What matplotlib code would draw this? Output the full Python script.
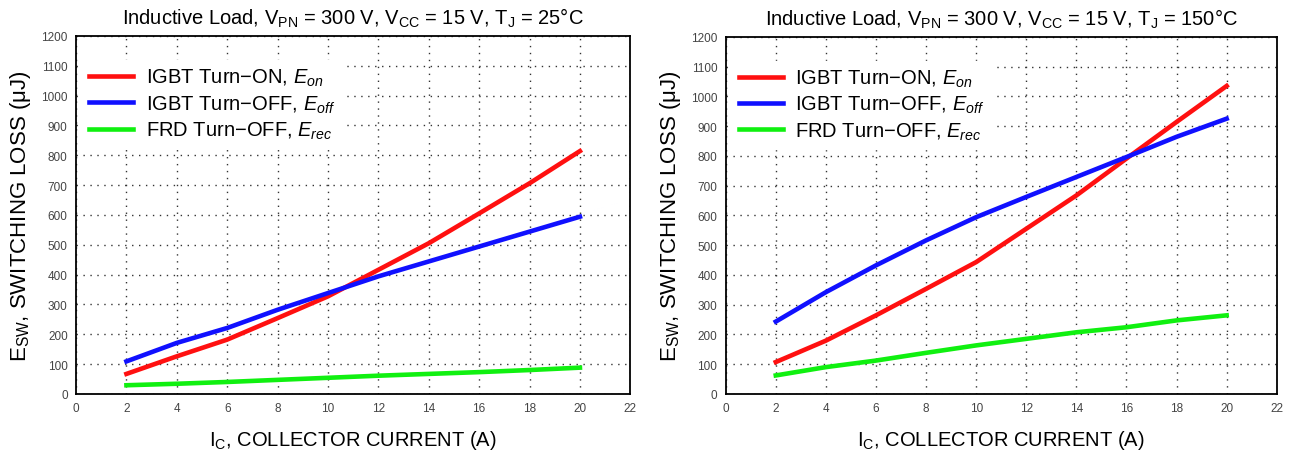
import numpy as np
import matplotlib
matplotlib.use('Agg')
import matplotlib.pyplot as plt

plt.rcParams['font.family'] = ['Liberation Sans', 'DejaVu Sans']
plt.rcParams['mathtext.fontset'] = 'custom'
plt.rcParams['mathtext.rm'] = 'Liberation Sans'
plt.rcParams['mathtext.it'] = 'Liberation Sans:italic'

# collector current (A)
ic = [2, 4, 6, 8, 10, 12, 14, 16, 18, 20]

# Tj = 25 C
eon_25 = [67, 126, 182, 254, 327, 416, 505, 605, 706, 814]
eoff_25 = [109, 171, 221, 282, 338, 394, 444, 494, 544, 594]
erec_25 = [29, 34, 40, 47, 54, 61, 67, 73, 80, 88]

# Tj = 150 C
eon_150 = [107, 179, 264, 353, 443, 555, 667, 791, 914, 1035]
eoff_150 = [243, 342, 432, 516, 594, 662, 729, 796, 864, 925]
erec_150 = [62, 90, 112, 138, 163, 185, 207, 224, 247, 264]

titles = [r'Inductive Load, V$_{\mathrm{PN}}$ = 300 V, V$_{\mathrm{CC}}$ = 15 V, T$_{\mathrm{J}}$ = 25°C',
          r'Inductive Load, V$_{\mathrm{PN}}$ = 300 V, V$_{\mathrm{CC}}$ = 15 V, T$_{\mathrm{J}}$ = 150°C']
labels = [r'IGBT Turn$-$ON, $E_{on}$', r'IGBT Turn$-$OFF, $E_{off}$', r'FRD Turn$-$OFF, $E_{rec}$']
colors = ['#ff1010', '#1010ff', '#10f010']

fig = plt.figure(figsize=(12.89, 4.56), dpi=100)
ax1 = fig.add_axes([0.059, 0.134, 0.430, 0.785])
ax2 = fig.add_axes([0.563, 0.134, 0.4275, 0.783])

for ax, title, series in [(ax1, titles[0], (eon_25, eoff_25, erec_25)),
                          (ax2, titles[1], (eon_150, eoff_150, erec_150))]:
    for y, lab, c in zip(series, labels, colors):
        ax.plot(ic, y, color=c, lw=3.3, label=lab, zorder=3)
    ax.set_xlim(0, 22)
    ax.set_ylim(0, 1200)
    ax.set_xticks(np.arange(0, 23, 2))
    ax.set_yticks(np.arange(0, 1201, 100))
    ax.tick_params(length=0, labelsize=8.5, labelcolor='#444444', pad=6)
    ax.grid(True, color='#333333', linestyle=(0, (1, 4)), lw=1.0)
    for s in ax.spines.values():
        s.set_linewidth(1.3)
    ax.set_title(title, fontsize=14.5, pad=9)
    ax.set_xlabel(r'I$_{\mathrm{C}}$, COLLECTOR CURRENT (A)', fontsize=14.5, labelpad=10)
    ax.set_ylabel(r'E$_{\mathrm{SW}}$, SWITCHING LOSS (μJ)', fontsize=16, labelpad=6)
    leg = ax.legend(loc='upper left', bbox_to_anchor=(0.0, 0.95), fontsize=14.5,
                    frameon=True, fancybox=False, edgecolor='white', framealpha=1.0,
                    handlelength=2.2, handletextpad=0.6, labelspacing=0.25,
                    borderpad=0.35, borderaxespad=0.3)
    leg.set_zorder(4)

fig.savefig('out.png', dpi=100)
